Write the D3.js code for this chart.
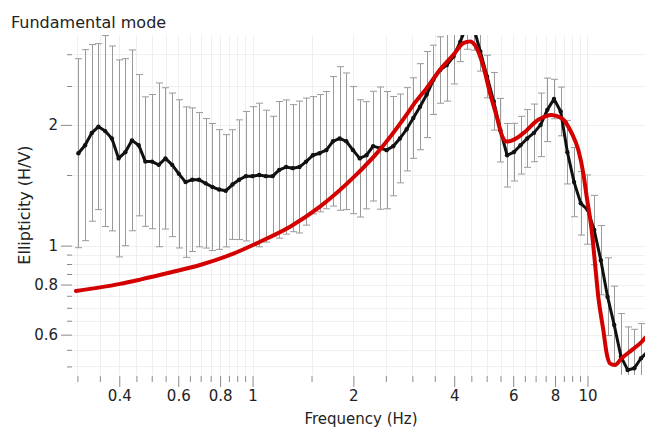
<!DOCTYPE html>
<html>
<head>
<meta charset="utf-8">
<script src="https://cdn.jsdelivr.net/npm/d3@7"></script>
<style>
  html, body { margin: 0; padding: 0; background: #fff; }
  svg { display: block; font-family: "DejaVu Sans", Verdana, sans-serif; }
</style>
</head>
<body>
<svg id="chart" width="645" height="429"></svg>
<script>
// Measured ellipticity curve: sampled frequencies (Hz)
const freqHz = [
  0.302, 0.3162, 0.3311, 0.3467, 0.3631, 0.3802, 0.3981, 0.4169, 0.4365, 0.4571,
  0.4786, 0.5012, 0.5248, 0.5495, 0.5754, 0.6026, 0.631, 0.6607, 0.6918, 0.7244,
  0.7586, 0.7943, 0.8318, 0.871, 0.912, 0.955, 1.0, 1.047, 1.096, 1.148,
  1.202, 1.259, 1.318, 1.38, 1.445, 1.514, 1.585, 1.66, 1.738, 1.82,
  1.905, 1.995, 2.089, 2.188, 2.291, 2.399, 2.512, 2.63, 2.754, 2.884,
  3.02, 3.162, 3.311, 3.467, 3.631, 3.802, 3.981, 4.169, 4.365, 4.571,
  4.786, 5.012, 5.248, 5.495, 5.754, 6.026, 6.31, 6.607, 6.918, 7.244,
  7.586, 7.943, 8.318, 8.71, 9.12, 9.55, 10.0, 10.47, 10.96, 11.48,
  12.02, 12.59, 13.18, 13.8, 14.45, 15.14
];

// Median H/V ellipticity at each frequency
const hvMedian = [
  1.70, 1.78, 1.91, 1.98, 1.93, 1.85, 1.65, 1.71, 1.83, 1.78,
  1.62, 1.62, 1.59, 1.65, 1.59, 1.51, 1.44, 1.46, 1.46, 1.43,
  1.40, 1.38, 1.37, 1.42, 1.46, 1.49, 1.49, 1.50, 1.49, 1.49,
  1.545, 1.57, 1.56, 1.57, 1.62, 1.68, 1.70, 1.73, 1.82, 1.85,
  1.82, 1.73, 1.65, 1.68, 1.77, 1.75, 1.73, 1.77, 1.85, 1.95,
  2.08, 2.22, 2.38, 2.59, 2.74, 2.82, 2.96, 3.22, 3.55, 3.50,
  3.05, 2.64, 2.29, 1.94, 1.68, 1.71, 1.78, 1.85, 1.91, 2.00,
  2.18, 2.32, 2.16, 1.71, 1.44, 1.275, 1.23, 1.094, 0.92, 0.746,
  0.634, 0.529, 0.490, 0.495, 0.524, 0.545
];

// Multiplicative standard deviation (log-normal) at each frequency
const hvStdFactor = [
  1.72, 1.73, 1.66, 1.61, 1.73, 1.70, 1.76, 1.71, 1.68, 1.50,
  1.45, 1.47, 1.60, 1.50, 1.51, 1.53, 1.54, 1.51, 1.47, 1.45,
  1.44, 1.41, 1.38, 1.37, 1.41, 1.45, 1.49, 1.51, 1.46, 1.41,
  1.48, 1.47, 1.44, 1.46, 1.44, 1.40, 1.40, 1.40, 1.45, 1.51,
  1.48, 1.44, 1.40, 1.36, 1.37, 1.42, 1.40, 1.33, 1.29, 1.27,
  1.26, 1.28, 1.28, 1.22, 1.21, 1.23, 1.17, 1.12, 1.15, 1.14,
  1.12, 1.13, 1.18, 1.20, 1.20, 1.18, 1.18, 1.18, 1.18, 1.20,
  1.20, 1.12, 1.15, 1.20, 1.22, 1.20, 1.22, 1.22, 1.22, 1.25,
  1.25, 1.28, 1.28, 1.25, 1.22, 1.20
];

// Theoretical fundamental-mode ellipticity
const modelFreq = [
  0.297, 0.3506, 0.4022, 0.4615, 0.5672, 0.697, 0.8566, 1.053, 1.294, 1.59,
  2.023, 2.369, 2.852, 3.02, 3.311, 3.628, 3.976, 4.259, 4.46, 4.67,
  4.887, 5.117, 5.358, 5.545, 5.739, 6.005, 6.433, 7.131, 7.818, 8.375,
  8.972, 9.387, 9.716, 9.945, 10.29, 10.53, 10.77, 11.15, 11.41, 11.67,
  12.08, 12.65, 13.55, 14.52, 14.85
];
const modelHv = [
  0.771, 0.787, 0.803, 0.823, 0.857, 0.895, 0.948, 1.023, 1.115, 1.251,
  1.492, 1.713, 2.094, 2.243, 2.470, 2.743, 2.989, 3.197, 3.227, 3.107,
  2.796, 2.399, 2.098, 1.888, 1.817, 1.835, 1.907, 2.059, 2.118, 2.078,
  1.907, 1.733, 1.515, 1.325, 1.094, 0.904, 0.746, 0.616, 0.539, 0.509,
  0.504, 0.524, 0.549, 0.576, 0.589
];

// Axis ticks
const xMajorTicks = [0.4, 0.6, 0.8, 1, 2, 4, 6, 8, 10];
const xMinorTicks = [0.3, 0.35, 0.45, 0.5, 0.55, 0.65, 0.7, 0.75, 0.85, 0.9, 0.95,
  1.5, 2.5, 3, 3.5, 4.5, 5, 5.5, 6.5, 7, 7.5, 8.5, 9, 9.5];
const yMajorTicks = [0.6, 0.8, 1, 2];
const yMinorTicks = [0.5, 0.55, 0.65, 0.7, 0.75, 0.85, 0.9, 0.95, 1.5, 2.5, 3];

const svg = d3.select("#chart");
const plot = { left: 72, right: 645, top: 35, bottom: 375 };

const x = d3.scaleLog().domain([0.289, 14.85]).range([plot.left, plot.right]);
const y = d3.scaleLog().domain([0.476, 3.35]).range([plot.bottom, plot.top]);

svg.append("defs").append("clipPath").attr("id", "plotClip")
  .append("rect")
  .attr("x", plot.left).attr("y", plot.top)
  .attr("width", plot.right - plot.left).attr("height", plot.bottom - plot.top);

// Light grid
const grid = svg.append("g").attr("stroke", "#efefef").attr("stroke-width", 1);
xMajorTicks.concat(xMinorTicks).forEach(t => {
  const px = Math.round(x(t)) + 0.5;
  grid.append("line").attr("x1", px).attr("x2", px).attr("y1", plot.top).attr("y2", plot.bottom);
});
yMajorTicks.concat(yMinorTicks).forEach(t => {
  const py = Math.round(y(t)) + 0.5;
  grid.append("line").attr("x1", plot.left).attr("x2", plot.right).attr("y1", py).attr("y2", py);
});

// X axis (ticks only, no domain line)
const xAxisMajor = d3.axisBottom(x).tickValues(xMajorTicks).tickSize(11).tickPadding(3)
  .tickFormat(d => String(d));
const xAxisMinor = d3.axisBottom(x).tickValues(xMinorTicks).tickSize(6).tickFormat("");
const gxMinor = svg.append("g").attr("transform", `translate(0,${plot.bottom + 1})`).call(xAxisMinor);
const gxMajor = svg.append("g").attr("transform", `translate(0,${plot.bottom + 1})`).call(xAxisMajor);

// Y axis
const yAxisMajor = d3.axisLeft(y).tickValues(yMajorTicks).tickSize(11).tickPadding(3)
  .tickFormat(d => String(d));
const yAxisMinor = d3.axisLeft(y).tickValues(yMinorTicks).tickSize(5).tickFormat("");
const gyMinor = svg.append("g").attr("transform", `translate(${plot.left},0)`).call(yAxisMinor);
const gyMajor = svg.append("g").attr("transform", `translate(${plot.left},0)`).call(yAxisMajor);

[gxMinor, gxMajor, gyMinor, gyMajor].forEach(g => {
  g.select(".domain").remove();
  g.selectAll(".tick line").attr("stroke", "#8a8a8a");
  g.selectAll(".tick text")
    .attr("fill", "#222")
    .style("font-family", '"DejaVu Sans", Verdana, sans-serif')
    .style("font-size", "15px");
});

// Axis titles
svg.append("text")
  .attr("x", 361).attr("y", 424)
  .attr("text-anchor", "middle")
  .attr("fill", "#222")
  .style("font-size", "15px")
  .text("Frequency (Hz)");

svg.append("text")
  .attr("transform", "translate(30,205) rotate(-90)")
  .attr("text-anchor", "middle")
  .attr("fill", "#222")
  .style("font-size", "16px")
  .text("Ellipticity (H/V)");

svg.append("text")
  .attr("x", 11).attr("y", 28)
  .attr("fill", "#222")
  .style("font-size", "16px")
  .text("Fundamental mode");

// Data layer
const layer = svg.append("g").attr("clip-path", "url(#plotClip)");

const samples = freqHz.map((f, i) => ({
  f: f,
  v: hvMedian[i],
  lo: hvMedian[i] / hvStdFactor[i],
  hi: hvMedian[i] * hvStdFactor[i]
}));

// Error bars
const bars = layer.append("g").attr("stroke", "#9a9a9a").attr("stroke-width", 1);
const capHalf = 3.5;
samples.forEach(d => {
  const px = Math.round(x(d.f)) + 0.5;
  bars.append("line").attr("x1", px).attr("x2", px).attr("y1", y(d.hi)).attr("y2", y(d.lo));
  bars.append("line").attr("x1", px - capHalf).attr("x2", px + capHalf).attr("y1", y(d.hi)).attr("y2", y(d.hi));
  bars.append("line").attr("x1", px - capHalf).attr("x2", px + capHalf).attr("y1", y(d.lo)).attr("y2", y(d.lo));
});

// Median curve with point markers
layer.append("path")
  .datum(samples)
  .attr("fill", "none")
  .attr("stroke", "#111")
  .attr("stroke-width", 3)
  .attr("stroke-linejoin", "round")
  .attr("d", d3.line().x(d => x(d.f)).y(d => y(d.v)));

layer.append("g").attr("fill", "#111")
  .selectAll("circle").data(samples).join("circle")
  .attr("cx", d => x(d.f)).attr("cy", d => y(d.v)).attr("r", 2.2);

// Theoretical curve
const model = modelFreq.map((f, i) => ({ f: f, v: modelHv[i] }));
layer.append("path")
  .datum(model)
  .attr("fill", "none")
  .attr("stroke", "#d40000")
  .attr("stroke-width", 4)
  .attr("stroke-linejoin", "round")
  .attr("stroke-linecap", "round")
  .attr("d", d3.line().curve(d3.curveMonotoneX).x(d => x(d.f)).y(d => y(d.v)));
</script>
</body>
</html>
